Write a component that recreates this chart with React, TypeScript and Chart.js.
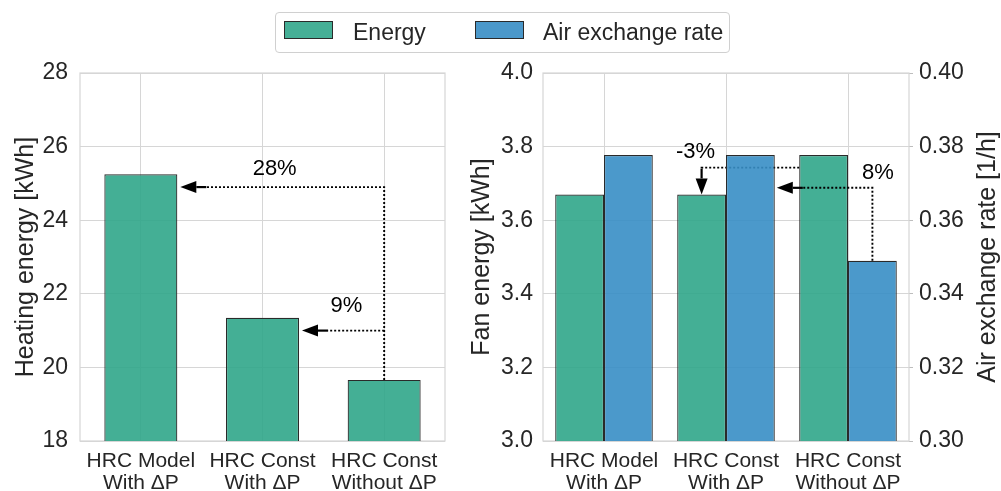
import { useEffect, useRef } from "react";
import { Chart, registerables } from "chart.js";

Chart.register(...registerables);

// ---------------- data ----------------
const categories = [
  ["HRC Model", "With ΔP"],
  ["HRC Const", "With ΔP"],
  ["HRC Const", "Without ΔP"],
];
const heatingEnergy = [25.25, 21.35, 19.66];
const fanEnergy = [3.67, 3.67, 3.777];
const airExchangeRate = [0.3777, 0.3777, 0.349];
const heatingTicks = [18, 20, 22, 24, 26, 28];
const fanTicks = [3.0, 3.2, 3.4, 3.6, 3.8, 4.0];
const airTicks = [0.3, 0.32, 0.34, 0.36, 0.38, 0.4];
const seriesNames = ["Energy", "Air exchange rate"];
const axisTitles = ["Heating energy [kWh]", "Fan energy [kWh]", "Air exchange rate [1/h]"];
const heatingChangeLabels = ["28%", "9%"];
const heatingArrowLevels = [24.9, 21.0];
const fanChangeLabel = "-3%";
const fanArrowLevel = 3.743;
const airChangeLabel = "8%";
const airArrowLevel = 0.3688;

// ---------------- style ----------------
const FONT = '"Liberation Sans", Arial, Helvetica, sans-serif';
const TEXT = "#262626";
const GRID = "#d6d6d6";
const GREEN = "rgba(48,166,138,0.9)";
const BLUE = "rgba(55,142,197,0.9)";
const GREEN_SOLID = "#45af96";
const BLUE_SOLID = "#4b98ca";
const EDGE = "#2a2a2a";

type Pt = [number, number];

function drawArrow(ctx: CanvasRenderingContext2D, pts: Pt[], headLen = 16, half = 6) {
  const n = pts.length;
  const [tx, ty] = pts[n - 1];
  const [sx, sy] = pts[n - 2];
  const d = Math.hypot(tx - sx, ty - sy);
  const ux = (tx - sx) / d;
  const uy = (ty - sy) / d;
  const solidLen = Math.min(d, headLen + 10);
  const cut: Pt = [tx - ux * solidLen, ty - uy * solidLen];
  ctx.save();
  ctx.strokeStyle = "#000";
  ctx.fillStyle = "#000";
  ctx.lineWidth = 1.9;
  ctx.setLineDash([2, 2]);
  ctx.beginPath();
  ctx.moveTo(pts[0][0], pts[0][1]);
  for (let i = 1; i < n - 1; i++) ctx.lineTo(pts[i][0], pts[i][1]);
  ctx.lineTo(cut[0], cut[1]);
  ctx.stroke();
  ctx.setLineDash([]);
  const bx = tx - ux * headLen;
  const by = ty - uy * headLen;
  ctx.lineWidth = 2.2;
  ctx.beginPath();
  ctx.moveTo(cut[0], cut[1]);
  ctx.lineTo(bx, by);
  ctx.stroke();
  const px = -uy;
  const py = ux;
  ctx.beginPath();
  ctx.moveTo(tx, ty);
  ctx.lineTo(bx + px * half, by + py * half);
  ctx.lineTo(bx - px * half, by - py * half);
  ctx.closePath();
  ctx.fill();
  ctx.restore();
}

function drawNote(ctx: CanvasRenderingContext2D, text: string, x: number, y: number) {
  ctx.save();
  ctx.font = `22px ${FONT}`;
  ctx.fillStyle = "#000";
  ctx.textAlign = "center";
  ctx.textBaseline = "middle";
  ctx.fillText(text, x, y);
  ctx.restore();
}

const framePlugin = {
  id: "frame",
  beforeDatasetsDraw(chart: any) {
    const { ctx, chartArea: a } = chart;
    ctx.save();
    ctx.strokeStyle = GRID;
    ctx.lineWidth = 1.2;
    ctx.strokeRect(a.left, a.top, a.right - a.left, a.bottom - a.top);
    ctx.restore();
  },
};

const tickFont = { family: FONT, size: 23 };
const xTickFont = { family: FONT, size: 21, lineHeight: 1.04 };
const titleFont = { family: FONT, size: 25 };

function LeftChart() {
  const ref = useRef<HTMLCanvasElement>(null);
  useEffect(() => {
    const notes = {
      id: "notesLeft",
      afterDatasetsDraw(chart: any) {
        const ctx = chart.ctx;
        const xs = chart.scales.x;
        const ys = chart.scales.y;
        const bars = chart.getDatasetMeta(0).data as any[];
        const xc = bars[2].x;
        const yTop = bars[2].y;
        const yA = ys.getPixelForValue(heatingArrowLevels[0]);
        const yB = ys.getPixelForValue(heatingArrowLevels[1]);
        drawArrow(ctx, [
          [xc, yTop],
          [xc, yA],
          [bars[0].x + bars[0].width / 2 + 3, yA],
        ]);
        drawArrow(ctx, [
          [xc, yB],
          [bars[1].x + bars[1].width / 2 + 3, yB],
        ]);
        drawNote(ctx, heatingChangeLabels[0], xs.getPixelForValue(1.1), ys.getPixelForValue(25.38));
        drawNote(ctx, heatingChangeLabels[1], xs.getPixelForValue(1.69), ys.getPixelForValue(21.68));
      },
    };
    const chart = new Chart(ref.current!, {
      type: "bar",
      data: {
        labels: categories,
        datasets: [
          {
            label: seriesNames[0],
            data: heatingEnergy,
            backgroundColor: GREEN,
            borderColor: EDGE,
            borderWidth: 1.2,
            borderSkipped: false,
            categoryPercentage: 0.6,
            barPercentage: 1.0,
          },
        ],
      },
      options: {
        responsive: false,
        animation: false,
        devicePixelRatio: 1,
        layout: { padding: { top: 73, right: 25, left: 0, bottom: 0 } },
        plugins: { legend: { display: false }, tooltip: { enabled: false } },
        scales: {
          x: {
            grid: { color: GRID, offset: false, drawTicks: false, lineWidth: 1 },
            border: { display: false },
            ticks: { font: xTickFont, color: TEXT, padding: 9, maxRotation: 0, autoSkip: false },
            afterFit: (s: any) => {
              s.height = 50;
            },
          },
          y: {
            min: heatingTicks[0],
            max: heatingTicks[heatingTicks.length - 1],
            afterBuildTicks: (s: any) => {
              s.ticks = heatingTicks.map((v) => ({ value: v }));
            },
            grid: { color: GRID, drawTicks: false, lineWidth: 1 },
            border: { display: false },
            ticks: { font: tickFont, color: TEXT, padding: 12, callback: (v: any) => String(v) },
            title: {
              display: true,
              text: axisTitles[0],
              font: titleFont,
              color: TEXT,
              padding: { top: 11, bottom: 0 },
            },
            afterFit: (s: any) => {
              s.width = 80;
            },
          },
        },
      },
      plugins: [framePlugin, notes],
    } as any);
    return () => chart.destroy();
  }, []);
  return (
    <canvas
      ref={ref}
      width={470}
      height={491}
      style={{ position: "absolute", left: 0, top: 0, width: 470, height: 491 }}
    />
  );
}

function RightChart() {
  const ref = useRef<HTMLCanvasElement>(null);
  useEffect(() => {
    const under = {
      id: "notesUnder",
      beforeDatasetsDraw(chart: any) {
        const ctx = chart.ctx;
        const xs = chart.scales.x;
        const yl = chart.scales.y;
        const g = chart.getDatasetMeta(0).data as any[];
        const yH = yl.getPixelForValue(fanArrowLevel);
        drawArrow(ctx, [
          [g[2].x - g[2].width / 2, yH],
          [g[1].x, yH],
          [g[1].x, g[1].y],
        ]);
        drawNote(ctx, fanChangeLabel, xs.getPixelForValue(0.75), yl.getPixelForValue(3.786));
      },
    };
    const over = {
      id: "notesOver",
      afterDatasetsDraw(chart: any) {
        const ctx = chart.ctx;
        const xs = chart.scales.x;
        const yr = chart.scales.y2;
        const b = chart.getDatasetMeta(1).data as any[];
        const yH = yr.getPixelForValue(airArrowLevel);
        drawArrow(ctx, [
          [b[2].x, b[2].y],
          [b[2].x, yH],
          [b[1].x + b[1].width / 2 + 2, yH],
        ]);
        drawNote(ctx, airChangeLabel, xs.getPixelForValue(2.245), yr.getPixelForValue(0.3729));
      },
      afterDraw(chart: any) {
        const ctx = chart.ctx;
        const yr = chart.scales.y2;
        const a = chart.chartArea;
        ctx.save();
        ctx.translate(yr.right - 13, (a.top + a.bottom) / 2);
        ctx.rotate(-Math.PI / 2);
        ctx.font = `25px ${FONT}`;
        ctx.fillStyle = TEXT;
        ctx.textAlign = "center";
        ctx.textBaseline = "middle";
        ctx.fillText(axisTitles[2], 0, 0);
        ctx.restore();
      },
    };
    const chart = new Chart(ref.current!, {
      type: "bar",
      data: {
        labels: categories,
        datasets: [
          {
            label: seriesNames[0],
            data: fanEnergy,
            yAxisID: "y",
            backgroundColor: GREEN,
            borderColor: EDGE,
            borderWidth: 1.2,
            borderSkipped: false,
            categoryPercentage: 0.8,
            barPercentage: 1.0,
          },
          {
            label: seriesNames[1],
            data: airExchangeRate,
            yAxisID: "y2",
            backgroundColor: BLUE,
            borderColor: EDGE,
            borderWidth: 1.2,
            borderSkipped: false,
            categoryPercentage: 0.8,
            barPercentage: 1.0,
          },
        ],
      },
      options: {
        responsive: false,
        animation: false,
        devicePixelRatio: 1,
        layout: { padding: { top: 73, right: 0, left: 0, bottom: 0 } },
        plugins: { legend: { display: false }, tooltip: { enabled: false } },
        scales: {
          x: {
            grid: { color: GRID, offset: false, drawTicks: false, lineWidth: 1 },
            border: { display: false },
            ticks: { font: xTickFont, color: TEXT, padding: 9, maxRotation: 0, autoSkip: false },
            afterFit: (s: any) => {
              s.height = 50;
            },
          },
          y: {
            position: "left",
            min: fanTicks[0],
            max: fanTicks[fanTicks.length - 1],
            afterBuildTicks: (s: any) => {
              s.ticks = fanTicks.map((v) => ({ value: v }));
            },
            grid: { color: GRID, drawTicks: false, lineWidth: 1 },
            border: { display: false },
            ticks: { font: tickFont, color: TEXT, padding: 10, callback: (v: any) => Number(v).toFixed(1) },
            title: {
              display: true,
              text: axisTitles[1],
              font: titleFont,
              color: TEXT,
              padding: { top: 7, bottom: 0 },
            },
            afterFit: (s: any) => {
              s.width = 83;
            },
          },
          y2: {
            position: "right",
            min: airTicks[0],
            max: airTicks[airTicks.length - 1],
            afterBuildTicks: (s: any) => {
              s.ticks = airTicks.map((v) => ({ value: v }));
            },
            grid: { drawOnChartArea: false, drawTicks: true, tickLength: 4, color: "#bdbdbd", lineWidth: 1 },
            border: { display: false },
            ticks: { font: tickFont, color: TEXT, padding: 6, callback: (v: any) => Number(v).toFixed(2) },
            title: { display: false },
            afterFit: (s: any) => {
              s.width = 92;
            },
          },
        },
      },
      plugins: [framePlugin, under, over],
    } as any);
    return () => chart.destroy();
  }, []);
  return (
    <canvas
      ref={ref}
      width={541}
      height={491}
      style={{ position: "absolute", left: 460, top: 0, width: 541, height: 491 }}
    />
  );
}

function Legend() {
  const sw = (color: string, left: number) => (
    <div
      style={{
        position: "absolute",
        left,
        top: 8,
        width: 47,
        height: 16,
        background: color,
        border: `1px solid ${EDGE}`,
      }}
    />
  );
  const label = (text: string, left: number) => (
    <div
      style={{
        position: "absolute",
        left,
        top: 0,
        height: 39,
        lineHeight: "39px",
        fontSize: 23,
        color: TEXT,
        whiteSpace: "nowrap",
      }}
    >
      {text}
    </div>
  );
  return (
    <div
      style={{
        position: "absolute",
        left: 275,
        top: 12,
        width: 453,
        height: 39,
        border: "1px solid #d0d0d0",
        borderRadius: 4,
        background: "#fff",
        fontFamily: FONT,
      }}
    >
      {sw(GREEN_SOLID, 8)}
      {label(seriesNames[0], 77)}
      {sw(BLUE_SOLID, 199)}
      {label(seriesNames[1], 267)}
    </div>
  );
}

export default function App() {
  return (
    <div
      style={{
        position: "absolute",
        left: 0,
        top: 0,
        width: 1001,
        height: 491,
        background: "#fff",
        overflow: "hidden",
        fontFamily: FONT,
      }}
    >
      <LeftChart />
      <RightChart />
      <Legend />
    </div>
  );
}
